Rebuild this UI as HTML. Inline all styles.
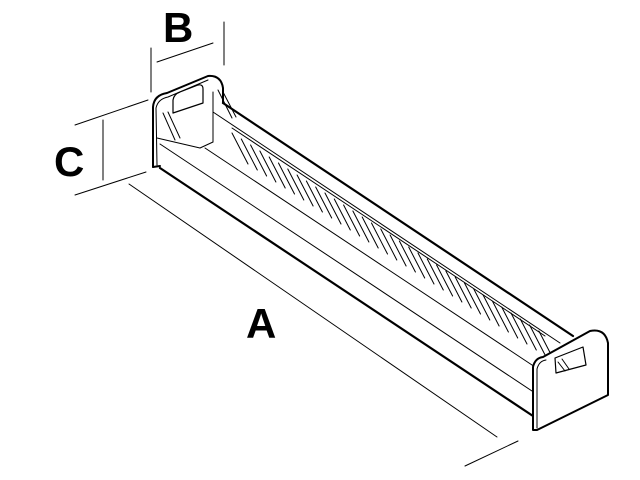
<!DOCTYPE html>
<html><head><style>html,body{margin:0;padding:0;background:#fff}svg{display:block}</style></head>
<body>
<svg width="640" height="480" viewBox="0 0 640 480" xmlns="http://www.w3.org/2000/svg" fill="none" stroke="#000" stroke-linecap="round" stroke-linejoin="round">
<g stroke-width="1">
<line x1="151" y1="48" x2="151" y2="92"/>
<line x1="224" y1="22" x2="224" y2="65"/>
<line x1="157" y1="62" x2="213" y2="43"/>
<line x1="75" y1="125" x2="148" y2="100"/>
<line x1="75" y1="195" x2="146" y2="172"/>
<line x1="103" y1="120" x2="103" y2="180"/>
<line x1="129" y1="184" x2="497" y2="437"/>
<line x1="465" y1="466" x2="518" y2="441"/>
</g>
<g font-family="Liberation Sans, sans-serif" font-weight="bold" font-size="42" fill="#000" stroke="none">
<text x="163" y="42">B</text>
<text x="54" y="176">C</text>
<text x="246" y="338">A</text>
</g>
<g stroke-width="2.2">
<line x1="223" y1="103" x2="573" y2="336"/>
<line x1="160" y1="168" x2="533" y2="416"/>
</g>
<g stroke-width="1">
<line x1="213" y1="112" x2="560" y2="343"/>
<line x1="205" y1="148" x2="535" y2="367"/>
<line x1="160" y1="144" x2="535" y2="393"/>
<line x1="157" y1="138" x2="200" y2="148"/>
<line x1="200" y1="148" x2="213" y2="142"/>
<line x1="213" y1="92" x2="213" y2="142"/>
<line x1="232" y1="128" x2="545" y2="336"/>
<path d="M232,133 l16,31 m-6.7,-25 l16,31 m-6.7,-25 l16,31 m-6.7,-25 l16,31 m-6.7,-25 l16,31 m-6.7,-25 l16,31 m-6.7,-25 l16,31 m-6.7,-25 l16,31 m-6.7,-25 l16,31 m-6.7,-25 l16,31 m-6.7,-25 l16,31 m-6.7,-25 l16,31 m-6.7,-25 l16,31 m-6.7,-25 l16,31 m-6.7,-25 l16,31 m-6.7,-25 l16,31 m-6.7,-25 l16,31 m-6.7,-25 l16,31 m-6.7,-25 l16,31 m-6.7,-25 l16,31 m-6.7,-25 l16,31 m-6.7,-25 l16,31 m-6.7,-25 l16,31 m-6.7,-25 l16,31 m-6.7,-25 l16,31 m-6.7,-25 l16,31 m-6.7,-25 l16,31 m-6.7,-25 l16,31 m-6.7,-25 l16,31 m-6.7,-25 l16,31 m-6.7,-25 l16,31 m-6.7,-25 l16,31 m-6.7,-25 l16,31 m-6.7,-25 l16,31 m-6.7,-25"/>
<line x1="163" y1="113" x2="175" y2="140"/>
<line x1="168" y1="112" x2="180" y2="138"/>
<line x1="218" y1="90" x2="232" y2="118"/>
<line x1="223" y1="92" x2="236" y2="117"/>
</g>
<path d="M153,167 L153,107 Q154,95 167,93 L208,76 Q221,75 223,88 L223,103" stroke-width="2" fill="none"/>
<path d="M157,165 L156,108 Q158,99 168,97 L208,80" stroke-width="1"/>
<line x1="153" y1="167" x2="160" y2="166" stroke-width="2"/>
<path d="M173,113 L173,100 Q174,94 180,92 L198,85 Q203,84 203,89 L203,103 Z" stroke-width="1.2" fill="#fff"/>
<path d="M533,430 L533,367 Q535,358 543,357 L590,331 Q605,328 608,343 L608,395 L537,430 Z" stroke-width="2" fill="#fff"/>
<path d="M537,428 L537,369 Q539,361 546,360" stroke-width="1"/>
<path d="M555,358 L583,347 L586,365 L556,373 Z" stroke-width="1.2"/>
<line x1="558" y1="362" x2="565" y2="371" stroke-width="1"/>
<line x1="562" y1="359" x2="569" y2="369" stroke-width="1"/>
</svg>
</body></html>
